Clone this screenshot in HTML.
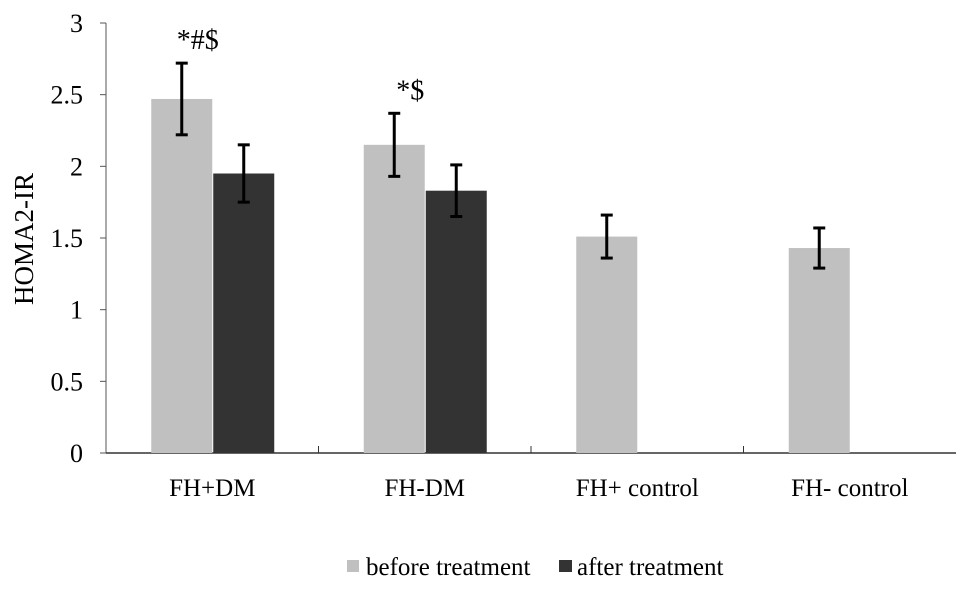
<!DOCTYPE html>
<html><head><meta charset="utf-8"><style>
body{margin:0;background:#fff}
text{font-family:"Liberation Serif",serif;fill:#000}
</style></head><body>
<svg id="chart" width="969" height="587">
<text x="0" y="0" transform="translate(33,239) rotate(-90)" text-anchor="middle" font-size="27">HOMA2-IR</text>
<g id="axes"></g>
<g id="bars"></g>
<g>
<rect x="347" y="560" width="12" height="12" fill="#c0c0c0"/>
<text x="366" y="575" font-size="25">before treatment</text>
<rect x="559" y="560" width="13" height="12" fill="#333333"/>
<text x="577" y="575" font-size="25">after treatment</text>
</g>
</svg>
<script>
const categories=["FH+DM","FH-DM","FH+ control","FH- control"];
const beforeVals=[2.47,2.15,1.51,1.43];
const beforeErr=[0.25,0.22,0.15,0.14];
const afterVals=[1.95,1.83,null,null];
const afterErr=[0.2,0.18,null,null];
const annotations=["*#$","*$","",""];
const yTicks=[0,0.5,1,1.5,2,2.5,3];

const NS="http://www.w3.org/2000/svg";
const x0=106,x1=956,y0=453,yTop=23,yMax=3;
const catW=(x1-x0)/categories.length;
const y=v=>y0-(v/yMax)*(y0-yTop);
const cx=i=>x0+catW*(i+0.5);
const barW=61;
function mk(tag,attrs,parent){const e=document.createElementNS(NS,tag);for(const k in attrs)e.setAttribute(k,attrs[k]);parent.appendChild(e);return e;}
const axes=document.getElementById('axes'),bars=document.getElementById('bars');
let e=mk('line',{x1:x0,y1:yTop,x2:x0,y2:y0,stroke:'#555','stroke-width':1},axes);


e=mk('line',{x1:x0,y1:y0,x2:x1,y2:y0,stroke:'#333','stroke-width':1.5},axes);


yTicks.forEach(t=>{
 let l=mk('line',{x1:x0-6,y1:y(t),x2:x0,y2:y(t),stroke:'#555'},axes);
 
 
 let tx=mk('text',{x:x0-23,y:y(t)+9,'text-anchor':'end','font-size':26},axes);
 tx.textContent=String(t);
 
 
});
for(let i=1;i<categories.length;i++){
 let l=mk('line',{x1:x0+catW*i,y1:y0-7,x2:x0+catW*i,y2:y0,stroke:'#333'},axes);
 
 
}
function errBar(xc,v,err){
 const g=mk('g',{},bars);
 
 
 mk('line',{x1:xc,y1:y(v+err),x2:xc,y2:y(v-err),stroke:'#000','stroke-width':3},g);
 mk('line',{x1:xc-6,y1:y(v+err),x2:xc+6,y2:y(v+err),stroke:'#000','stroke-width':3},g);
 mk('line',{x1:xc-6,y1:y(v-err),x2:xc+6,y2:y(v-err),stroke:'#000','stroke-width':3},g);
}
categories.forEach((c,i)=>{
 const c0=cx(i);
 let r=mk('rect',{x:c0-barW,y:y(beforeVals[i]),width:barW,height:y0-y(beforeVals[i]),fill:'#c0c0c0'},bars);
 
 
 if(afterVals[i]!=null){
  let r2=mk('rect',{x:c0+1,y:y(afterVals[i]),width:barW,height:y0-y(afterVals[i]),fill:'#333333'},bars);
  
  
 }
 errBar(c0-barW/2,beforeVals[i],beforeErr[i]);
 if(afterVals[i]!=null) errBar(c0+1+barW/2,afterVals[i],afterErr[i]);
 if(annotations[i]){
  let a=mk('text',{x:c0-barW/2+16,y:y(beforeVals[i]+beforeErr[i])-14,'text-anchor':'middle','font-size':28,'font-family':'Liberation Sans, sans-serif'},bars);
  a.textContent=annotations[i];
  
  
 }
 let t=mk('text',{x:c0,y:496,'text-anchor':'middle','font-size':25},axes);
 t.textContent=c;
 
 
});
</script>
</body></html>
